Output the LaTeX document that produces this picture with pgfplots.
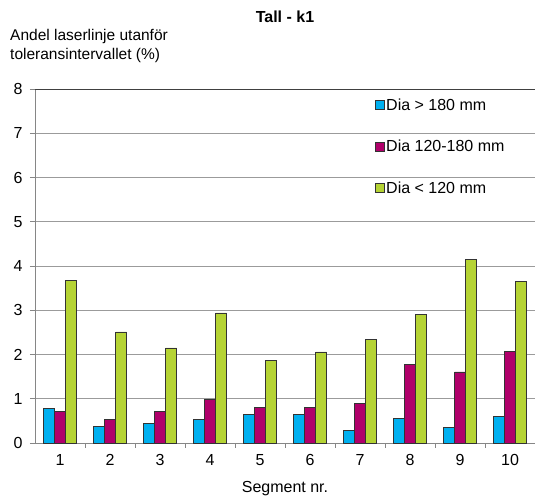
\documentclass[border=0pt]{standalone}
\usepackage{pgfplots}
\pgfplotsset{compat=1.18}
\usepackage{pgfplotstable}
\usepackage{fontspec}
\setmainfont{Liberation Sans}

\definecolor{cblue}{RGB}{0,176,240}
\definecolor{cmag}{RGB}{176,0,106}
\definecolor{cgreen}{RGB}{181,211,52}
\definecolor{axgray}{RGB}{134,134,134}
\definecolor{gridgray}{RGB}{155,155,155}

% Share of laser line outside the tolerance interval, per segment
\pgfplotstableread{
seg big mid small
1  0.78 0.71 3.67
2  0.38 0.54 2.51
3  0.44 0.71 2.15
4  0.54 0.99 2.94
5  0.64 0.81 1.86
6  0.64 0.81 2.06
7  0.29 0.89 2.34
8  0.55 1.77 2.91
9  0.35 1.61 4.15
10 0.60 2.07 3.65
}\segdata

\begin{document}
\begin{tikzpicture}
\path[use as bounding box] (-35pt,-54pt) rectangle (500pt,443pt);
\begin{axis}[
  scale only axis,
  width=500pt, height=354pt,
  clip=false,
  ybar=0pt,
  bar width=11pt,
  xmin=0.5, xmax=10.5,
  ymin=0, ymax=8,
  axis lines*=left,
  axis line style={axgray, line width=0.8pt},
  ytick={0,...,8},
  xtick={1,...,10},
  xtick style={draw=none},
  extra x ticks={1.5,2.5,...,9.5},
  extra x tick labels={},
  extra x tick style={xtick style={draw=axgray, line width=0.8pt}},
  tick align=outside,
  major tick length=5pt,
  ytick style={draw=axgray, line width=0.8pt},
  ymajorgrids,
  grid style={gridgray, line width=0.8pt},
  /pgf/number format/assume math mode=true,
  tick label style={font=\fontsize{16}{18}\selectfont},
  xticklabel style={yshift=-3pt},
  yticklabel style={xshift=-4pt},
  legend style={
    at={(0.68,0.978)}, anchor=north west,
    draw=none, fill=none,
    font=\fontsize{16}{18}\selectfont,
    row sep=25.5pt,
    inner sep=0pt,
    nodes={inner sep=1.5pt},
  },
  legend cell align=left,
  legend image code/.code={\draw[#1,/tikz/.cd,line width=0.5pt] (0pt,-4.5pt) rectangle (9pt,4.5pt);},
]
\addplot[fill=cblue, draw=black!80, line width=0.5pt] table[x=seg, y=big] {\segdata};
\addplot[fill=cmag, draw=black!80, line width=0.5pt] table[x=seg, y=mid] {\segdata};
\addplot[fill=cgreen, draw=black!80, line width=0.5pt] table[x=seg, y=small] {\segdata};
\legend{Dia > 180 mm, Dia 120-180 mm, Dia < 120 mm}

% darker top border line
\draw[black!75, line width=0.8pt] (rel axis cs:0,1) -- (rel axis cs:1,1);

\node[anchor=center, font=\fontsize{16}{19}\selectfont\bfseries]
  at (rel axis cs:0.5,1) [yshift=72pt] {Tall - k1};
\node[anchor=north west, align=left, inner sep=0pt, font=\fontsize{15.5}{19}\selectfont]
  at (rel axis cs:0,1) [xshift=-25pt, yshift=60pt] {Andel laserlinje utanför\\toleransintervallet (\%)};
\node[anchor=center, font=\fontsize{16}{19}\selectfont]
  at (rel axis cs:0.5,0) [yshift=-46pt] {Segment nr.};
\end{axis}
\end{tikzpicture}
\end{document}
